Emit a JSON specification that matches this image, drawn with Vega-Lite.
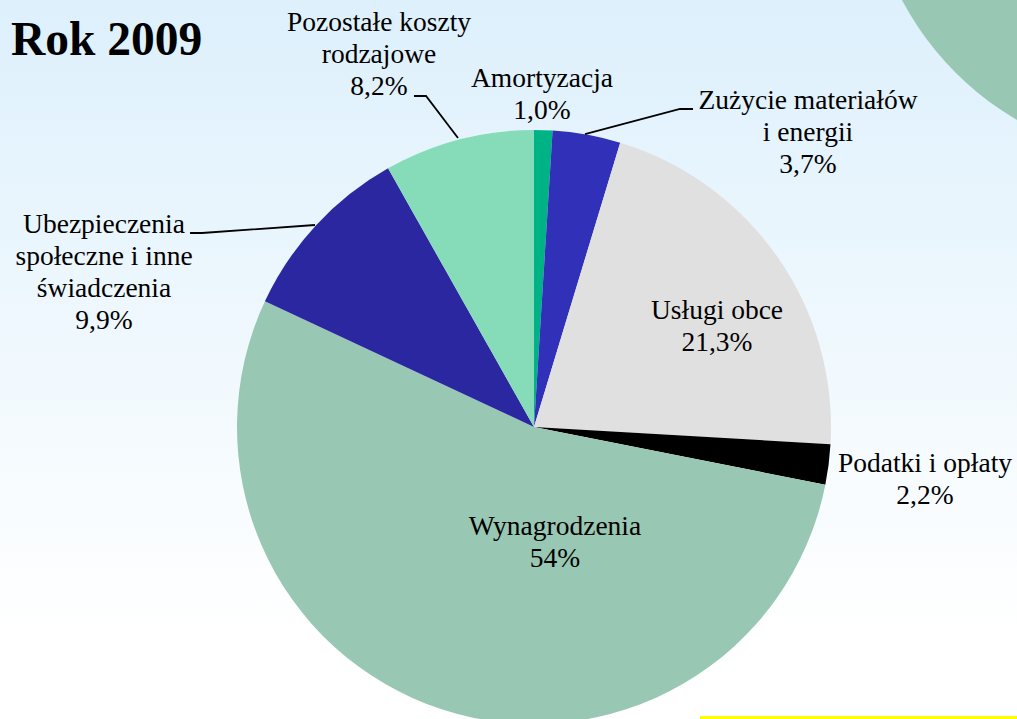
{
  "$schema": "https://vega.github.io/schema/vega-lite/v6.json",
  "width": 1017,
  "height": 719,
  "padding": 0,
  "autosize": {"type": "none"},
  "background": "#FFFFFF",
  "config": {
    "font": "Liberation Serif",
    "view": {
      "stroke": null,
      "fill": {
        "gradient": "linear",
        "x1": 0, "y1": 0, "x2": 0, "y2": 1,
        "stops": [
          {"offset": 0, "color": "#DDF0FC"},
          {"offset": 0.88, "color": "#FFFFFF"}
        ]
      }
    }
  },
  "datasets": {
    "koszty": [
      {"idx": 1, "kategoria": "Amortyzacja", "udzial": 1.0},
      {"idx": 2, "kategoria": "Zużycie materiałów i energii", "udzial": 3.7},
      {"idx": 3, "kategoria": "Usługi obce", "udzial": 21.3},
      {"idx": 4, "kategoria": "Podatki i opłaty", "udzial": 2.2},
      {"idx": 5, "kategoria": "Wynagrodzenia", "udzial": 54.0},
      {"idx": 6, "kategoria": "Ubezpieczenia społeczne i inne świadczenia", "udzial": 9.9},
      {"idx": 7, "kategoria": "Pozostałe koszty rodzajowe", "udzial": 8.2}
    ],
    "etykiety": [
      {"tekst": "Pozostałe koszty\nrodzajowe\n8,2%", "u": -0.5219, "v": 1.3333},
      {"tekst": "Amortyzacja\n1,0%", "u": 0.0269, "v": 1.1448},
      {"tekst": "Zużycie materiałów\ni energii\n3,7%", "u": 0.9226, "v": 1.0707},
      {"tekst": "Usługi obce\n21,3%", "u": 0.6162, "v": 0.3636},
      {"tekst": "Podatki i opłaty\n2,2%", "u": 1.3165, "v": -0.1515},
      {"tekst": "Wynagrodzenia\n54%", "u": 0.0707, "v": -0.3636},
      {"tekst": "Ubezpieczenia\nspołeczne i inne\nświadczenia\n9,9%", "u": -1.4478, "v": 0.6532}
    ],
    "linie": [
      {"grupa": "poz", "k": 1, "u": -0.4040, "v": 1.1145},
      {"grupa": "poz", "k": 2, "u": -0.3636, "v": 1.1145},
      {"grupa": "poz", "k": 3, "u": -0.2559, "v": 0.9731},
      {"grupa": "zuz", "k": 1, "u": 0.5354, "v": 1.0707},
      {"grupa": "zuz", "k": 2, "u": 0.4916, "v": 1.0707},
      {"grupa": "zuz", "k": 3, "u": 0.1717, "v": 0.9865},
      {"grupa": "ube", "k": 1, "u": -1.1582, "v": 0.6532},
      {"grupa": "ube", "k": 2, "u": -1.1178, "v": 0.6532},
      {"grupa": "ube", "k": 3, "u": -0.7374, "v": 0.6801}
    ],
    "tytul": [{"tekst": "Rok 2009", "u": -1.7609, "v": 1.2525}],
    "kolo": [{"u": 2.138, "v": 1.9125}],
    "pasek": [{"u": 0.5589, "u2": 1.70, "v": -0.9781}]
  },
  "layer": [
    {
      "data": {"name": "kolo"},
      "mark": {"type": "circle", "size": 364816, "opacity": 1, "color": "#98C8B4"},
      "encoding": {
        "x": {"field": "u", "type": "quantitative", "scale": {"domain": [-1.798, 1.6263], "nice": false, "zero": false}, "axis": null},
        "y": {"field": "v", "type": "quantitative", "scale": {"domain": [-0.98316, 1.43771], "nice": false, "zero": false}, "axis": null}
      }
    },
    {
      "data": {"name": "koszty"},
      "mark": {"type": "arc", "outerRadius": 297},
      "encoding": {
        "theta": {"field": "udzial", "type": "quantitative", "stack": true},
        "order": {"field": "idx", "type": "quantitative"},
        "color": {
          "field": "kategoria", "type": "nominal", "legend": null,
          "scale": {
            "domain": ["Amortyzacja", "Zużycie materiałów i energii", "Usługi obce", "Podatki i opłaty", "Wynagrodzenia", "Ubezpieczenia społeczne i inne świadczenia", "Pozostałe koszty rodzajowe"],
            "range": ["#00B386", "#3030B8", "#E0E0E0", "#000000", "#98C8B4", "#2A27A0", "#86DBB8"]
          }
        },
        "x": {"datum": 0, "type": "quantitative", "scale": {"domain": [-1.798, 1.6263], "nice": false, "zero": false}, "axis": null},
        "y": {"datum": 0, "type": "quantitative", "scale": {"domain": [-0.98316, 1.43771], "nice": false, "zero": false}, "axis": null}
      }
    },
    {
      "data": {"name": "linie"},
      "mark": {"type": "line", "color": "#000000", "strokeWidth": 1.8},
      "encoding": {
        "x": {"field": "u", "type": "quantitative", "scale": {"domain": [-1.798, 1.6263], "nice": false, "zero": false}, "axis": null},
        "y": {"field": "v", "type": "quantitative", "scale": {"domain": [-0.98316, 1.43771], "nice": false, "zero": false}, "axis": null},
        "detail": {"field": "grupa", "type": "nominal"},
        "order": {"field": "k", "type": "quantitative"}
      }
    },
    {
      "data": {"name": "etykiety"},
      "mark": {"type": "text", "font": "Liberation Serif", "fontSize": 27.5, "lineHeight": 32, "align": "center", "baseline": "alphabetic", "lineBreak": "\n", "color": "#000000"},
      "encoding": {
        "x": {"field": "u", "type": "quantitative", "scale": {"domain": [-1.798, 1.6263], "nice": false, "zero": false}, "axis": null},
        "y": {"field": "v", "type": "quantitative", "scale": {"domain": [-0.98316, 1.43771], "nice": false, "zero": false}, "axis": null},
        "text": {"field": "tekst", "type": "nominal"}
      }
    },
    {
      "data": {"name": "tytul"},
      "mark": {"type": "text", "font": "Liberation Serif", "fontSize": 47.5, "fontWeight": "bold", "align": "left", "baseline": "alphabetic", "color": "#000000"},
      "encoding": {
        "x": {"field": "u", "type": "quantitative", "scale": {"domain": [-1.798, 1.6263], "nice": false, "zero": false}, "axis": null},
        "y": {"field": "v", "type": "quantitative", "scale": {"domain": [-0.98316, 1.43771], "nice": false, "zero": false}, "axis": null},
        "text": {"field": "tekst", "type": "nominal"}
      }
    },
    {
      "data": {"name": "pasek"},
      "mark": {"type": "rule", "color": "#FFFF00", "strokeWidth": 3},
      "encoding": {
        "x": {"field": "u", "type": "quantitative", "scale": {"domain": [-1.798, 1.6263], "nice": false, "zero": false}, "axis": null},
        "x2": {"field": "u2"},
        "y": {"field": "v", "type": "quantitative", "scale": {"domain": [-0.98316, 1.43771], "nice": false, "zero": false}, "axis": null}
      }
    }
  ]
}
